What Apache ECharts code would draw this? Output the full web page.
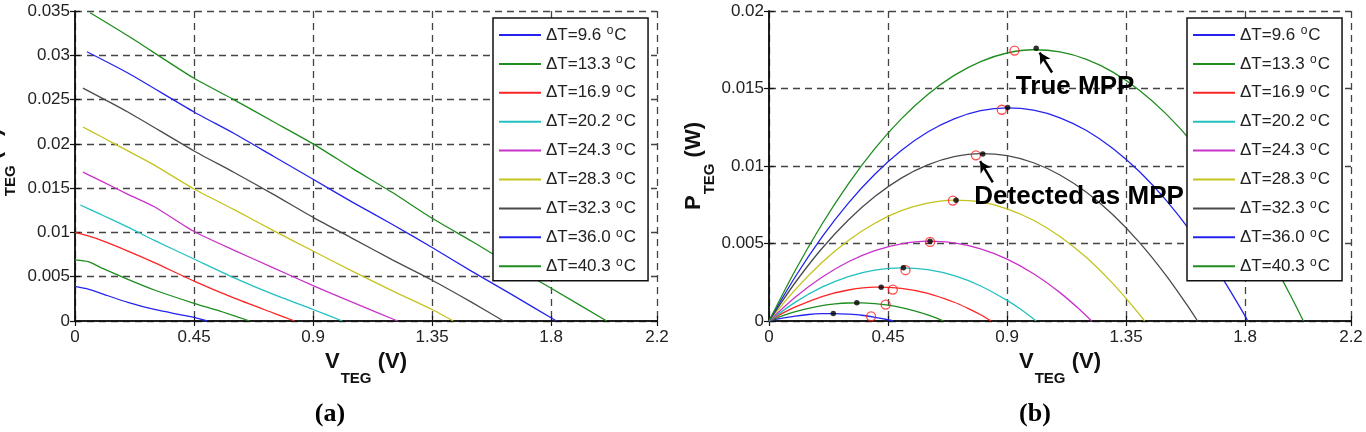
<!DOCTYPE html>
<html>
<head>
<meta charset="utf-8">
<script src="https://cdn.jsdelivr.net/npm/echarts@6/dist/echarts.min.js"></script>
<style>
  html, body { margin: 0; padding: 0; background: #fff; }
  #chart { width: 1366px; height: 432px; }
</style>
</head>
<body>
<div id="chart"></div>
<script>
// legend names and colours (MATLAB default order)
var dtNames = ['ΔT=9.6', 'ΔT=13.3', 'ΔT=16.9', 'ΔT=20.2', 'ΔT=24.3', 'ΔT=28.3', 'ΔT=32.3', 'ΔT=36.0', 'ΔT=40.3'];
var dtColors = ['#2424ee', '#1e8c1e', '#ff2424', '#22c0c0', '#c832c8', '#c4c41e', '#4a4a4a', '#2424ee', '#1e8c1e'];

// axis ranges / tick steps
var vMax = 2.2, vStep = 0.45;
var iMax = 0.035, iStep = 0.005;
var pMax = 0.02, pStep = 0.005;

// (a) I-V curves  [V, I]
var iv96 = [[0, 0.0039], [0.05, 0.0036], [0.1, 0.0031], [0.2, 0.0021], [0.3, 0.0013], [0.4, 0.0007], [0.45, 0.0004], [0.5, 0]];
var iv133 = [[0, 0.0069], [0.05, 0.0067], [0.1, 0.0060], [0.2, 0.0047], [0.3, 0.0035], [0.45, 0.0020], [0.55, 0.0011], [0.66, 0]];
var iv169 = [[0, 0.0100], [0.05, 0.0096], [0.1, 0.0091], [0.2, 0.0079], [0.3, 0.0066], [0.45, 0.0045], [0.6, 0.0026], [0.75, 0.0009], [0.83, 0]];
var iv202 = [[0.02, 0.0131], [0.1, 0.0120], [0.2, 0.0106], [0.3, 0.0091], [0.45, 0.0070], [0.6, 0.0049], [0.75, 0.0030], [0.9, 0.0013], [1.01, 0]];
var iv243 = [[0.03, 0.0168], [0.1, 0.0158], [0.2, 0.0143], [0.3, 0.0129], [0.45, 0.0101], [0.6, 0.0080], [0.75, 0.0060], [0.9, 0.0040], [1.05, 0.0021], [1.22, 0]];
var iv283 = [[0.03, 0.0219], [0.1, 0.0208], [0.2, 0.0192], [0.3, 0.0176], [0.45, 0.0149], [0.6, 0.0126], [0.75, 0.0102], [0.9, 0.0079], [1.05, 0.0056], [1.2, 0.0034], [1.35, 0.0013], [1.43, 0]];
var iv323 = [[0.03, 0.0263], [0.2, 0.0236], [0.45, 0.0192], [0.6, 0.0168], [0.75, 0.0143], [0.9, 0.0117], [1.05, 0.0093], [1.2, 0.0069], [1.35, 0.0046], [1.5, 0.0021], [1.62, 0]];
var iv360 = [[0.045, 0.0304], [0.2, 0.0280], [0.45, 0.0236], [0.6, 0.0212], [0.75, 0.0186], [0.9, 0.0160], [1.05, 0.0134], [1.2, 0.0109], [1.35, 0.0083], [1.5, 0.0056], [1.65, 0.0030], [1.82, 0]];
var iv403 = [[0.057, 0.0348], [0.2, 0.0322], [0.45, 0.0274], [0.6, 0.0250], [0.75, 0.0225], [0.9, 0.0200], [1.05, 0.0172], [1.2, 0.0145], [1.35, 0.0116], [1.5, 0.0090], [1.65, 0.0063], [1.8, 0.0037], [2.01, 0]];

// (b) P-V curves  [V, P]
var pv96 = [[0, 0], [0.05, 0.00018], [0.1, 0.00032], [0.15, 0.00042], [0.2, 0.00047], [0.25, 0.00048], [0.3, 0.00044], [0.35, 0.00037], [0.4, 0.00024], [0.45, 0.00008], [0.47, 0]];
var pv133 = [[0, 0], [0.05, 0.00033], [0.1, 0.0006], [0.15, 0.00082], [0.2, 0.00099], [0.25, 0.0011], [0.3, 0.00116], [0.35, 0.00117], [0.4, 0.00112], [0.45, 0.00102], [0.5, 0.00086], [0.55, 0.00065], [0.6, 0.00039], [0.66, 0]];
var pv169 = [[0, 0], [0.05, 0.00049], [0.1, 0.00091], [0.2, 0.00158], [0.3, 0.002], [0.4, 0.00218], [0.5, 0.0021], [0.6, 0.00178], [0.7, 0.00121], [0.75, 0.00083], [0.8, 0.0004], [0.84, 0]];
var pv202 = [[0, 0], [0.1, 0.00122], [0.2, 0.00218], [0.3, 0.00287], [0.4, 0.00328], [0.5, 0.00343], [0.6, 0.00331], [0.7, 0.00292], [0.8, 0.00226], [0.9, 0.00133], [0.95, 0.00077], [1.01, 0]];
var pv243 = [[0, 0], [0.1, 0.00155], [0.2, 0.00282], [0.3, 0.00382], [0.4, 0.00454], [0.5, 0.00498], [0.6, 0.00515], [0.7, 0.00504], [0.8, 0.00465], [0.9, 0.00399], [1.0, 0.00305], [1.1, 0.00183], [1.18, 0.00065], [1.22, 0]];
var pv283 = [[0, 0], [0.1, 0.00204], [0.2, 0.00378], [0.3, 0.0052], [0.4, 0.00631], [0.5, 0.00712], [0.6, 0.00761], [0.7, 0.0078], [0.8, 0.00768], [0.9, 0.00724], [1.0, 0.0065], [1.1, 0.00545], [1.2, 0.00409], [1.3, 0.00241], [1.38, 0.00085], [1.42, 0]];
var pv323 = [[0, 0], [0.1, 0.0025], [0.2, 0.00468], [0.3, 0.00652], [0.4, 0.00803], [0.5, 0.00922], [0.6, 0.01007], [0.7, 0.0106], [0.8, 0.0108], [0.9, 0.01067], [1.0, 0.01021], [1.1, 0.00942], [1.2, 0.0083], [1.3, 0.00685], [1.4, 0.00507], [1.5, 0.00296], [1.58, 0.00104], [1.62, 0]];
var pv360 = [[0, 0], [0.1, 0.00287], [0.2, 0.00541], [0.3, 0.00761], [0.4, 0.00947], [0.5, 0.011], [0.6, 0.01219], [0.7, 0.01304], [0.8, 0.01357], [0.9, 0.01375], [1.0, 0.0136], [1.1, 0.01311], [1.2, 0.01229], [1.3, 0.01113], [1.4, 0.00964], [1.5, 0.00781], [1.6, 0.00564], [1.7, 0.00314], [1.77, 0.00119], [1.81, 0]];
var pv403 = [[0, 0], [0.1, 0.00329], [0.2, 0.00624], [0.3, 0.00885], [0.4, 0.01112], [0.5, 0.01304], [0.6, 0.01462], [0.7, 0.01585], [0.8, 0.01674], [0.9, 0.01729], [1.0, 0.0175], [1.1, 0.01736], [1.2, 0.01688], [1.3, 0.01606], [1.4, 0.01489], [1.5, 0.01338], [1.6, 0.01153], [1.7, 0.00933], [1.8, 0.00679], [1.9, 0.00391], [1.97, 0.00169], [2.02, 0]];

// MPP markers on (b)
var trueMpp = [[0.243, 0.00048], [0.332, 0.00117], [0.424, 0.00218], [0.508, 0.00343], [0.609, 0.00515], [0.707, 0.00779], [0.808, 0.01077], [0.902, 0.01378], [1.010, 0.0176]];
var detectedMpp = [[0.386, 0.0003], [0.441, 0.00106], [0.468, 0.00203], [0.516, 0.00328], [0.609, 0.0051], [0.695, 0.00777], [0.782, 0.01069], [0.880, 0.01363], [0.928, 0.01745]];

var ivSets = [iv96, iv133, iv169, iv202, iv243, iv283, iv323, iv360, iv403];
var pvSets = [pv96, pv133, pv169, pv202, pv243, pv283, pv323, pv360, pv403];

var font = 'Liberation Sans';
var nameRich = {
    m: { fontFamily: font, fontSize: 22, fontWeight: 'bold', color: '#111', lineHeight: 24, verticalAlign: 'top' },
    s: { fontFamily: font, fontSize: 15, fontWeight: 'bold', color: '#111', lineHeight: 16, padding: [20, 0, 0, 1], verticalAlign: 'top' }
};
var dashed = { show: true, lineStyle: { color: '#444', type: [7, 5], width: 1.3 } };

function mainAxis(gridIndex, max, step, pos, name, gap) {
    return {
        type: 'value', gridIndex: gridIndex, position: pos, min: 0, max: max, interval: step,
        axisLine: { show: true, lineStyle: { color: '#111', width: 1.5 } },
        axisTick: { show: true, inside: true, length: 5, lineStyle: { color: '#111', width: 1.2 } },
        axisLabel: { color: '#222', fontFamily: font, fontSize: 17, margin: pos === 'bottom' ? 8 : 5 },
        splitLine: dashed,
        name: name, nameLocation: 'middle', nameGap: gap,
        nameTextStyle: { rich: nameRich }
    };
}
function sideAxis(gridIndex, max, step, pos) {
    return {
        type: 'value', gridIndex: gridIndex, position: pos, min: 0, max: max, interval: step,
        axisLine: { show: true, lineStyle: { color: '#111', width: 1.5 } },
        axisTick: { show: true, inside: true, length: 5, lineStyle: { color: '#111', width: 1.2 } },
        axisLabel: { show: false },
        splitLine: { show: false }
    };
}

function makeLegend(left) {
    return {
        left: left, top: 18, orient: 'vertical',
        data: dtNames,
        icon: 'rect', itemWidth: 42, itemHeight: 2, itemGap: 10.4,
        backgroundColor: '#fff', borderColor: '#111', borderWidth: 1.5,
        padding: [7, 12, 6, 6], selectedMode: false,
        formatter: function (n) { return '{a|' + n + '} {o|o}{a|C}'; },
        textStyle: {
            rich: {
                a: { fontFamily: font, fontSize: 17, color: '#222', lineHeight: 20, verticalAlign: 'middle' },
                o: { fontFamily: font, fontSize: 12, color: '#222', lineHeight: 8, padding: [0, 1, 0, 2], verticalAlign: 'top' }
            }
        }
    };
}

var series = [];
for (var i = 0; i < dtNames.length; i++) {
    series.push({
        name: dtNames[i], type: 'line', xAxisIndex: 0, yAxisIndex: 0,
        data: ivSets[i], showSymbol: false, smooth: 0.2, color: dtColors[i],
        lineStyle: { width: 1.3, color: dtColors[i] }, z: 3
    });
    series.push({
        name: dtNames[i], type: 'line', xAxisIndex: 2, yAxisIndex: 2,
        data: pvSets[i], showSymbol: false, smooth: 0.3, color: dtColors[i],
        lineStyle: { width: 1.3, color: dtColors[i] }, z: 3
    });
}

// detected points + annotations
series.push({
    name: 'detected', type: 'scatter', xAxisIndex: 2, yAxisIndex: 2,
    data: detectedMpp, symbol: 'circle', symbolSize: 9, z: 4,
    itemStyle: { color: 'rgba(255,255,255,0)', borderColor: '#ff2020', borderWidth: 1.3 },
    markLine: {
        silent: true, symbol: ['none', 'arrow'], symbolSize: [9, 11],
        label: { show: false },
        lineStyle: { color: '#000', width: 2.5, type: 'solid' },
        data: [
            [{ coord: [1.070, 0.01603] }, { coord: [1.023, 0.01732] }],
            [{ coord: [0.846, 0.00895] }, { coord: [0.798, 0.01031] }]
        ]
    },
    markPoint: {
        silent: true, symbol: 'circle', symbolSize: 0,
        label: { show: true, position: 'inside', formatter: '{b}', color: '#000', fontFamily: font, fontSize: 26, fontWeight: 'bold' },
        data: [
            { name: 'True MPP', coord: [1.157, 0.01513] },
            { name: 'Detected as MPP', coord: [1.172, 0.00803] }
        ]
    }
});
series.push({
    name: 'true', type: 'scatter', xAxisIndex: 2, yAxisIndex: 2,
    data: trueMpp, symbol: 'circle', symbolSize: 5.5, z: 5,
    itemStyle: { color: '#000' }
});

var chart = echarts.init(document.getElementById('chart'));
chart.setOption({
    animation: false,
    backgroundColor: '#fff',
    title: [
        { text: '(a)', left: 325, top: 396, textAlign: 'center', textStyle: { fontFamily: 'Liberation Serif', fontSize: 26, fontWeight: 'bold', color: '#000' } },
        { text: '(b)', left: 1030, top: 396, textAlign: 'center', textStyle: { fontFamily: 'Liberation Serif', fontSize: 26, fontWeight: 'bold', color: '#000' } }
    ],
    grid: [
        { left: 75, top: 11, width: 582, height: 310, containLabel: false, outerBoundsMode: 'none' },
        { left: 769, top: 11, width: 582, height: 310, containLabel: false, outerBoundsMode: 'none' }
    ],
    xAxis: [
        mainAxis(0, vMax, vStep, 'bottom', '{m|V}{s|TEG}{m| (V)}', 12),
        sideAxis(0, vMax, vStep, 'top'),
        mainAxis(1, vMax, vStep, 'bottom', '{m|V}{s|TEG}{m| (V)}', 12),
        sideAxis(1, vMax, vStep, 'top')
    ],
    yAxis: [
        mainAxis(0, iMax, iStep, 'left', '{m|I}{s|TEG}{m| (A)}', 68),
        sideAxis(0, iMax, iStep, 'right'),
        mainAxis(1, pMax, pStep, 'left', '{m|P}{s|TEG}{m| (W)}', 49),
        sideAxis(1, pMax, pStep, 'right')
    ],
    legend: [makeLegend(493), makeLegend(1187)],
    series: series
});
</script>
</body>
</html>
